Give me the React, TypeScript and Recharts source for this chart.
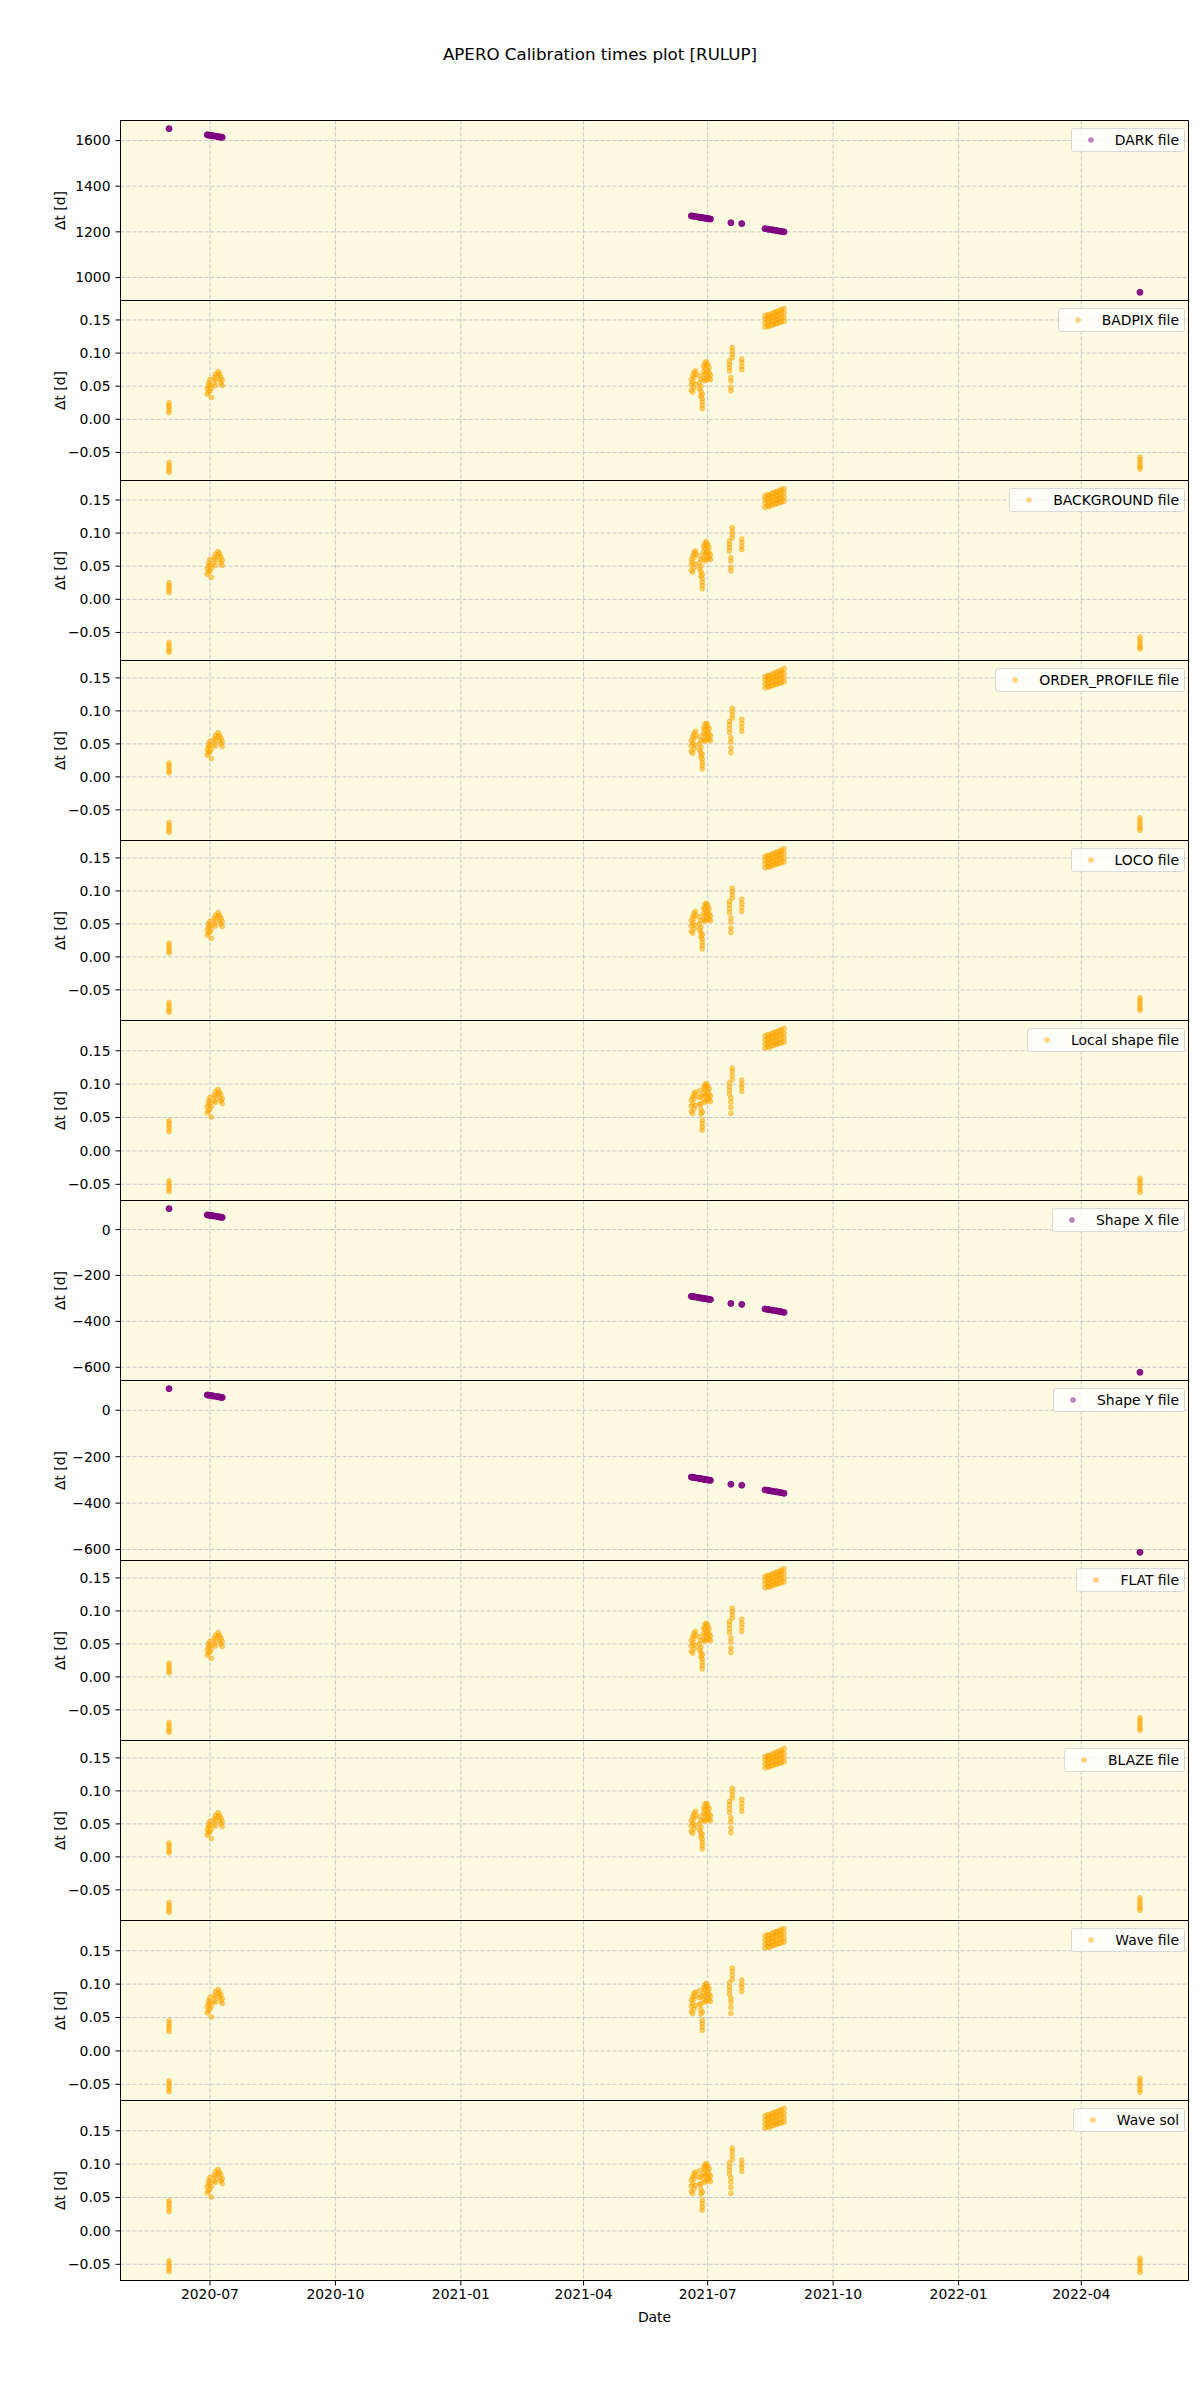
import { ScatterChart, Scatter, XAxis, YAxis, CartesianGrid, Legend, ReferenceArea } from 'recharts'

// calibration file times for the orange panels (one entry per plotted file)
const calibDates = [
  '2020-06-01', '2020-06-01', '2020-06-01', '2020-06-01', '2020-06-01',
  '2020-06-01', '2020-06-01', '2020-06-01', '2020-06-01', '2020-06-01',
  '2020-06-29', '2020-06-29', '2020-06-30', '2020-06-30', '2020-06-30', '2020-07-01', '2020-07-01', '2020-07-01', '2020-07-02', '2020-07-02',
  '2020-07-04', '2020-07-04', '2020-07-05', '2020-07-05', '2020-07-05',
  '2020-07-07', '2020-07-07', '2020-07-08', '2020-07-08', '2020-07-09', '2020-07-09', '2020-07-10', '2020-07-10',
  '2021-06-19', '2021-06-19', '2021-06-19', '2021-06-20', '2021-06-20', '2021-06-20',
  '2021-06-21', '2021-06-21', '2021-06-21', '2021-06-22', '2021-06-22', '2021-06-22',
  '2021-06-25', '2021-06-25', '2021-06-25', '2021-06-26', '2021-06-26', '2021-06-26', '2021-06-26',
  '2021-06-27', '2021-06-27', '2021-06-27', '2021-06-27', '2021-06-27',
  '2021-06-28', '2021-06-28', '2021-06-28', '2021-06-29', '2021-06-29', '2021-06-29', '2021-06-29',
  '2021-06-30', '2021-06-30', '2021-06-30', '2021-06-30', '2021-07-01', '2021-07-01', '2021-07-01',
  '2021-07-02', '2021-07-02', '2021-07-02', '2021-07-03', '2021-07-03',
  '2021-07-19', '2021-07-19', '2021-07-19', '2021-07-19', '2021-07-17', '2021-07-17', '2021-07-17', '2021-07-17',
  '2021-07-18', '2021-07-18', '2021-07-18', '2021-07-18',
  '2021-07-26', '2021-07-26', '2021-07-26', '2021-07-26',
  '2021-08-12', '2021-08-12', '2021-08-12', '2021-08-12', '2021-08-14', '2021-08-14', '2021-08-14', '2021-08-14',
  '2021-08-15', '2021-08-15', '2021-08-15', '2021-08-15', '2021-08-17', '2021-08-17', '2021-08-17', '2021-08-17',
  '2021-08-18', '2021-08-18', '2021-08-18', '2021-08-18', '2021-08-20', '2021-08-20', '2021-08-20', '2021-08-20',
  '2021-08-21', '2021-08-21', '2021-08-21', '2021-08-21', '2021-08-23', '2021-08-23', '2021-08-23', '2021-08-23',
  '2021-08-24', '2021-08-24', '2021-08-24', '2021-08-24', '2021-08-26', '2021-08-26', '2021-08-26', '2021-08-26',
  '2022-05-14', '2022-05-14', '2022-05-14', '2022-05-14', '2022-05-14', '2022-05-14',
]

// BADPIX / BACKGROUND
const badpixDt = [
  0.025, 0.021, 0.018, 0.014, 0.010, -0.065, -0.069, -0.073, -0.077, -0.080,
  0.038, 0.046, 0.041, 0.050, 0.055, 0.043, 0.052, 0.060, 0.033, 0.047,
  0.055, 0.063, 0.051, 0.060, 0.068,
  0.066, 0.072, 0.060, 0.069, 0.055, 0.064, 0.051, 0.059,
  0.044, 0.052, 0.060, 0.041, 0.056, 0.066, 0.048, 0.063, 0.071, 0.053, 0.068, 0.073,
  0.046, 0.055, 0.066, 0.035, 0.042, 0.050, 0.060, 0.016, 0.021, 0.026, 0.031, 0.038,
  0.062, 0.072, 0.080, 0.058, 0.068, 0.077, 0.085, 0.060, 0.070, 0.081, 0.087, 0.065, 0.074, 0.083, 0.062, 0.070, 0.078, 0.060, 0.067,
  0.108, 0.103, 0.098, 0.093, 0.088, 0.083, 0.078, 0.073, 0.063, 0.058, 0.048, 0.043,
  0.091, 0.086, 0.080, 0.075,
  0.139, 0.145, 0.151, 0.156, 0.141, 0.147, 0.153, 0.158, 0.140, 0.146, 0.152, 0.157, 0.142, 0.148, 0.154, 0.159,
  0.143, 0.149, 0.155, 0.161, 0.144, 0.150, 0.156, 0.162, 0.145, 0.151, 0.157, 0.163, 0.146, 0.152, 0.158, 0.164,
  0.147, 0.153, 0.160, 0.166, 0.148, 0.154, 0.161, 0.167,
  -0.057, -0.061, -0.065, -0.069, -0.072, -0.075,
]

// ORDER_PROFILE / LOCO / FLAT / BLAZE
const orderProfileDt = [
  0.021, 0.017, 0.013, 0.009, 0.006, -0.069, -0.073, -0.077, -0.081, -0.084,
  0.033, 0.041, 0.036, 0.045, 0.050, 0.038, 0.047, 0.054, 0.028, 0.042,
  0.050, 0.058, 0.047, 0.055, 0.063,
  0.061, 0.067, 0.055, 0.063, 0.050, 0.059, 0.046, 0.054,
  0.039, 0.047, 0.055, 0.036, 0.051, 0.061, 0.043, 0.058, 0.066, 0.048, 0.063, 0.069,
  0.041, 0.050, 0.061, 0.030, 0.037, 0.045, 0.055, 0.012, 0.017, 0.022, 0.027, 0.034,
  0.057, 0.066, 0.074, 0.054, 0.063, 0.072, 0.080, 0.056, 0.065, 0.075, 0.081, 0.060, 0.069, 0.078, 0.057, 0.065, 0.073, 0.055, 0.062,
  0.104, 0.099, 0.094, 0.089, 0.084, 0.079, 0.073, 0.067, 0.059, 0.053, 0.044, 0.037,
  0.087, 0.081, 0.075, 0.069,
  0.135, 0.141, 0.147, 0.152, 0.137, 0.143, 0.149, 0.154, 0.136, 0.142, 0.148, 0.153, 0.138, 0.144, 0.150, 0.155,
  0.139, 0.145, 0.151, 0.157, 0.140, 0.146, 0.152, 0.158, 0.141, 0.147, 0.153, 0.159, 0.142, 0.148, 0.154, 0.160,
  0.143, 0.149, 0.156, 0.162, 0.144, 0.150, 0.157, 0.164,
  -0.062, -0.066, -0.070, -0.074, -0.078, -0.081,
]

// Local shape / Wave file / Wave sol
const waveDt = [
  0.045, 0.041, 0.037, 0.033, 0.029, -0.045, -0.049, -0.053, -0.057, -0.061,
  0.057, 0.066, 0.060, 0.070, 0.075, 0.063, 0.072, 0.080, 0.051, 0.067,
  0.075, 0.083, 0.073, 0.081, 0.089,
  0.086, 0.092, 0.080, 0.088, 0.075, 0.084, 0.071, 0.078,
  0.059, 0.067, 0.076, 0.056, 0.071, 0.081, 0.063, 0.078, 0.086, 0.068, 0.083, 0.088,
  0.070, 0.080, 0.090, 0.055, 0.062, 0.070, 0.082, 0.031, 0.036, 0.041, 0.046, 0.058,
  0.077, 0.087, 0.095, 0.073, 0.083, 0.092, 0.099, 0.075, 0.085, 0.096, 0.101, 0.080, 0.089, 0.097, 0.077, 0.085, 0.093, 0.074, 0.082,
  0.124, 0.119, 0.113, 0.107, 0.102, 0.096, 0.091, 0.085, 0.079, 0.073, 0.065, 0.056,
  0.106, 0.100, 0.095, 0.089,
  0.154, 0.160, 0.166, 0.172, 0.156, 0.162, 0.168, 0.174, 0.155, 0.161, 0.167, 0.173, 0.157, 0.163, 0.169, 0.175,
  0.158, 0.164, 0.171, 0.177, 0.159, 0.165, 0.172, 0.178, 0.160, 0.166, 0.173, 0.179, 0.161, 0.167, 0.174, 0.180,
  0.162, 0.168, 0.175, 0.182, 0.163, 0.169, 0.176, 0.183,
  -0.041, -0.045, -0.049, -0.053, -0.058, -0.062,
]

// purple panels
const darkDates = [
  '2020-06-01',
  '2020-06-29', '2020-06-30', '2020-07-01', '2020-07-02', '2020-07-03', '2020-07-04',
  '2020-07-06', '2020-07-07', '2020-07-08', '2020-07-09', '2020-07-10',
  '2021-06-19', '2021-06-20', '2021-06-21', '2021-06-22', '2021-06-24', '2021-06-25', '2021-06-26',
  '2021-06-27', '2021-06-28', '2021-06-29', '2021-06-30', '2021-07-01', '2021-07-02', '2021-07-03',
  '2021-07-18', '2021-07-26',
  '2021-08-12', '2021-08-14', '2021-08-15', '2021-08-17', '2021-08-18',
  '2021-08-20', '2021-08-21', '2021-08-23', '2021-08-24', '2021-08-26',
  '2022-05-14',
]
const darkDt = [
  1652,
  1625, 1624, 1623, 1622, 1621, 1620, 1618, 1617, 1616, 1615, 1614,
  1270, 1269, 1268, 1267, 1265, 1264, 1263, 1262, 1261, 1260, 1259, 1258, 1257, 1256,
  1240, 1236,
  1214, 1212, 1211, 1209, 1208, 1206, 1205, 1203, 1202, 1200,
  935,
]
const shapeXDt = [
  91,
  64, 63, 62, 61, 60, 59, 57, 56, 55, 54, 53,
  -291, -292, -293, -294, -296, -297, -298, -299, -300, -301, -302, -303, -304, -305,
  -322, -326,
  -346, -348, -349, -351, -352, -354, -355, -357, -358, -361,
  -622,
]
const shapeYDt = [
  93,
  66, 65, 64, 63, 62, 61, 59, 58, 57, 56, 55,
  -288, -289, -290, -291, -293, -294, -295, -296, -297, -298, -299, -300, -301, -302,
  -319, -323,
  -343, -345, -346, -348, -349, -351, -352, -354, -355, -358,
  -612,
]

const dateTicks = ['2020-07-01', '2020-10-01', '2021-01-01', '2021-04-01', '2021-07-01', '2021-10-01', '2022-01-01', '2022-04-01']
const darkTicks = [1000, 1200, 1400, 1600]
const shapeTicks = [-600, -400, -200, 0]
const smallTicks = [-0.05, 0, 0.05, 0.1, 0.15]

const PURPLE = '#800080'
const ORANGE = '#FFA500'
const FONT = '"DejaVu Sans", sans-serif'
const FS = 13.9

const panels = [
  { name: 'DARK file', dates: darkDates, values: darkDt, color: PURPLE, ticks: darkTicks, decimals: 0 },
  { name: 'BADPIX file', dates: calibDates, values: badpixDt, color: ORANGE, ticks: smallTicks, decimals: 2 },
  { name: 'BACKGROUND file', dates: calibDates, values: badpixDt, color: ORANGE, ticks: smallTicks, decimals: 2 },
  { name: 'ORDER_PROFILE file', dates: calibDates, values: orderProfileDt, color: ORANGE, ticks: smallTicks, decimals: 2 },
  { name: 'LOCO file', dates: calibDates, values: orderProfileDt, color: ORANGE, ticks: smallTicks, decimals: 2 },
  { name: 'Local shape file', dates: calibDates, values: waveDt, color: ORANGE, ticks: smallTicks, decimals: 2 },
  { name: 'Shape X file', dates: darkDates, values: shapeXDt, color: PURPLE, ticks: shapeTicks, decimals: 0 },
  { name: 'Shape Y file', dates: darkDates, values: shapeYDt, color: PURPLE, ticks: shapeTicks, decimals: 0 },
  { name: 'FLAT file', dates: calibDates, values: orderProfileDt, color: ORANGE, ticks: smallTicks, decimals: 2 },
  { name: 'BLAZE file', dates: calibDates, values: orderProfileDt, color: ORANGE, ticks: smallTicks, decimals: 2 },
  { name: 'Wave file', dates: calibDates, values: waveDt, color: ORANGE, ticks: smallTicks, decimals: 2 },
  { name: 'Wave sol', dates: calibDates, values: waveDt, color: ORANGE, ticks: smallTicks, decimals: 2 },
]

// matplotlib style 5% margins
const pad = (lo: number, hi: number): [number, number] => {
  const m = (hi - lo) * 0.05
  return [lo - m, hi + m]
}

const allTimes = [...calibDates, ...darkDates].map((d) => Date.parse(d))
const xDomain = pad(Math.min(...allTimes), Math.max(...allTimes))
const dateTickMs = dateTicks.map((d) => Date.parse(d))

const fmtDate = (t: number) => {
  const d = new Date(t)
  return `${d.getUTCFullYear()}-${String(d.getUTCMonth() + 1).padStart(2, '0')}`
}
const fmtNum = (decimals: number) => (v: number) => {
  const s = Math.abs(v).toFixed(decimals)
  return v < -1e-9 ? '\u2212' + s : s
}

const dotShape = (color: string) => (props: any) => {
  const purple = color === PURPLE
  return (
    <circle
      cx={props.cx}
      cy={props.cy}
      r={purple ? 3 : 2.4}
      fill={color}
      fillOpacity={purple ? 0.9 : 0.5}
      stroke={color}
      strokeOpacity={purple ? 0.9 : 0.5}
      strokeWidth={1}
    />
  )
}

const legendBox = (name: string, color: string) => () => (
  <div
    style={{
      display: 'flex',
      alignItems: 'center',
      height: 22,
      paddingRight: 5,
      border: '1px solid #d9d9d9',
      borderRadius: 3,
      background: 'rgba(255,255,255,0.8)',
      fontSize: FS,
      fontFamily: FONT,
      color: '#000',
      whiteSpace: 'nowrap',
    }}
  >
    <svg width={43} height={22}>
      <circle cx={19} cy={11} r={2.8} fill={color} fillOpacity={0.5} />
    </svg>
    <span>{name}</span>
  </div>
)

const PANEL_H = 180
const TOP = 120

function Panel({ panel, index, last }: { panel: (typeof panels)[number]; index: number; last: boolean }) {
  const data = panel.dates.slice(0, panel.values.length).map((d, i) => ({ x: Date.parse(d), y: panel.values[i] }))
  const yDomain = pad(Math.min(...panel.values), Math.max(...panel.values))
  const axisH = 46.5
  const height = 2.5 + PANEL_H + (last ? axisH : 1.5)
  const tickStyle = { fill: '#000', fontSize: FS, fontFamily: FONT }
  return (
    <div style={{ position: 'absolute', left: 0, top: TOP + index * PANEL_H - 2 }}>
      <ScatterChart width={1200} height={height} margin={{ top: 2.5, right: 11.5, bottom: last ? 0 : 1.5, left: 0.5 }}>
        <CartesianGrid stroke="#c6c6cc" strokeDasharray="4 2" fill="#fcfae0" fillOpacity={1} />
        <XAxis
          type="number"
          dataKey="x"
          domain={xDomain}
          allowDataOverflow
          ticks={dateTickMs}
          interval={0}
          hide={!last}
          height={axisH}
          tickFormatter={fmtDate}
          tick={tickStyle}
          tickSize={5}
          tickMargin={4}
          tickLine={{ stroke: '#000' }}
          axisLine={{ stroke: '#000' }}
          label={last ? { value: 'Date', position: 'insideBottom', offset: 5, fill: '#000', fontSize: FS, fontFamily: FONT } : undefined}
        />
        <YAxis
          type="number"
          dataKey="y"
          domain={yDomain}
          allowDataOverflow
          ticks={panel.ticks}
          interval={0}
          width={120}
          tickFormatter={fmtNum(panel.decimals)}
          tick={tickStyle}
          tickSize={5}
          tickMargin={5}
          tickLine={{ stroke: '#000' }}
          axisLine={{ stroke: '#000' }}
          label={{ value: 'Δt [d]', angle: -90, position: 'center', fill: '#000', fontSize: FS, fontFamily: FONT }}
        />
        <Scatter name={panel.name} data={data} fill={panel.color} isAnimationActive={false} shape={dotShape(panel.color)} />
        <ReferenceArea
          x1={xDomain[0]}
          x2={xDomain[1]}
          y1={yDomain[0]}
          y2={yDomain[1]}
          ifOverflow="visible"
          fill="none"
          stroke="#000"
          strokeWidth={1}
        />
        <Legend
          layout="vertical"
          align="center"
          verticalAlign="middle"
          content={legendBox(panel.name, panel.color)}
          wrapperStyle={{ top: 10, right: 15, left: 'auto', width: 'auto', height: 'auto' }}
        />
      </ScatterChart>
    </div>
  )
}

const App = () => {
  return (
    <div style={{ position: 'relative', width: 1200, height: 2400, background: '#fff', fontFamily: FONT }}>
      <style>{'body{margin:0}'}</style>
      <div style={{ position: 'absolute', top: 45, left: 0, width: 1200, textAlign: 'center', fontSize: 16.67, lineHeight: '20px', color: '#000' }}>
        APERO Calibration times plot [RULUP]
      </div>
      {panels.map((p, i) => (
        <Panel key={p.name} panel={p} index={i} last={i === panels.length - 1} />
      ))}
    </div>
  )
}

export default App
